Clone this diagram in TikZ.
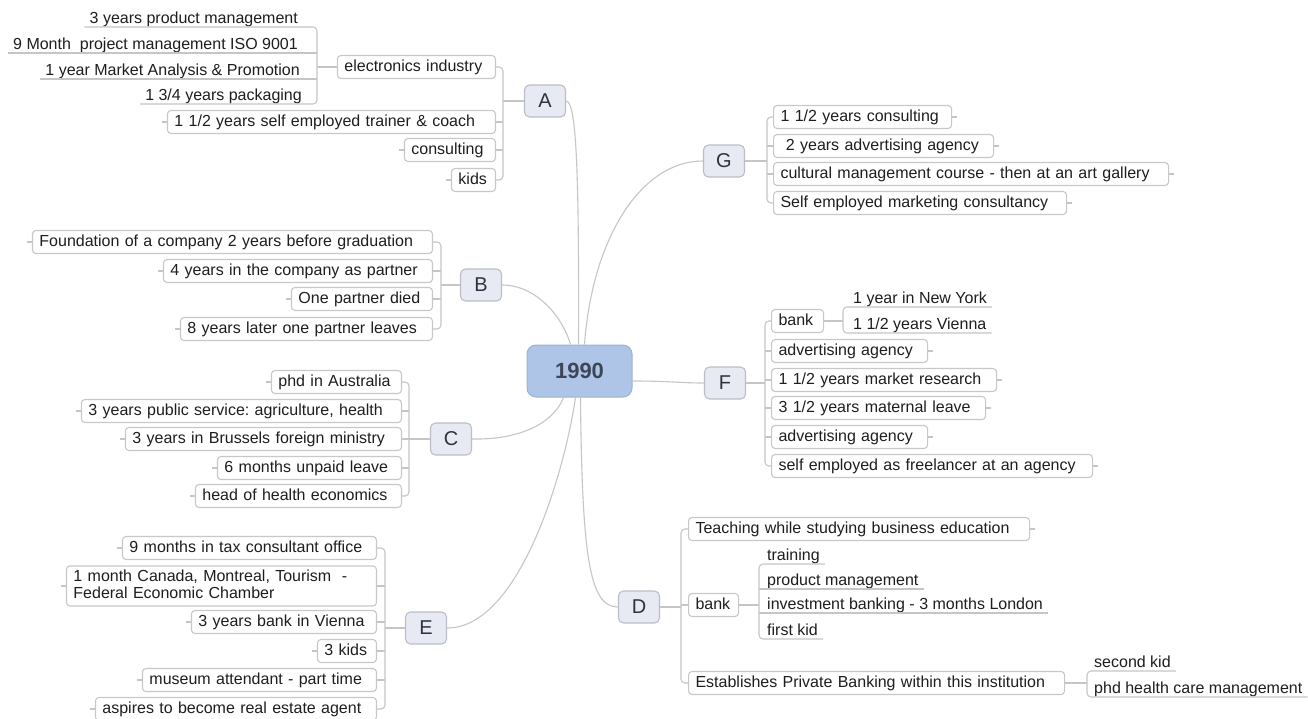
\documentclass[tikz,border=0pt]{standalone}
\usepackage{fontspec}
\setmainfont{Liberation Sans}
\frenchspacing
\definecolor{linkgray}{HTML}{C6C6C6}
\definecolor{leafgray}{HTML}{C8C8C8}
\definecolor{textcol}{HTML}{1E1E1E}
\definecolor{mainfill}{HTML}{E8EAF3}
\definecolor{mainline}{HTML}{BBBEC8}
\definecolor{maintext}{HTML}{2E3140}
\definecolor{rootfill}{HTML}{AEC5E7}
\definecolor{rootline}{HTML}{9DB3D3}
\definecolor{roottext}{HTML}{3E4656}

\begin{document}
\begin{tikzpicture}[x=1pt, y=-1pt,
    link/.style={draw=linkgray, line width=1.1pt},
    root/.style={draw=rootline, fill=rootfill, line width=1pt, rounded corners=9pt,
        minimum width=105pt, minimum height=52pt, text=roottext,
        font=\fontsize{22}{24}\selectfont\bfseries},
    topic/.style={draw=mainline, fill=mainfill, line width=1.1pt, rounded corners=5pt,
        minimum width=41pt, minimum height=32pt, inner sep=0pt, text=maintext,
        font=\fontsize{20}{22}\selectfont},
    leaf/.style={draw=leafgray, fill=white, line width=1.1pt, rounded corners=3.5pt,
        inner xsep=7pt, inner ysep=4pt, text height=11.5pt, text depth=3.5pt,
        align=left, text=textcol, font=\fontsize{16}{17}\selectfont},
    under/.style={inner xsep=5pt, inner ysep=0.5pt, text height=11.5pt, text depth=3pt,
        text=textcol, font=\fontsize{16}{17}\selectfont}]

    \path[use as bounding box, fill=white] (0,0) rectangle (1308,718);

    % root and main topics
    \node[root] (root) at (579.5,371) {1990};
    \node[topic] (A) at (545,101) {A};
    \node[topic] (B) at (481,285) {B};
    \node[topic] (C) at (451,439) {C};
    \node[topic] (D) at (639,607) {D};
    \node[topic] (E) at (426,628) {E};
    \node[topic] (F) at (725,383) {F};
    \node[topic] (G) at (724,161) {G};

    \draw[link] (A.east) .. controls (577,101) and (579,180) .. ([xshift=-1pt]root.north);
    \draw[link] (G.west) .. controls (640,161) and (592,240) .. ([xshift=5pt]root.north);
    \draw[link] (B.east) .. controls (535,285) and (562,315) .. ([xshift=-9pt]root.north);
    \draw[link] (C.east) .. controls (525,440) and (555,420) .. ([xshift=-16pt]root.south);
    \draw[link] (E.east) .. controls (520,628) and (565,470) .. ([xshift=-4pt]root.south);
    \draw[link] ([xshift=1pt]root.south) .. controls (582,560) and (590,607) .. (D.west);
    \draw[link] ([yshift=-10pt]root.east) .. controls (670,381) and (680,383) .. (F.west);

    % A
    \coordinate (sA) at (503,0);
    \node[leaf, anchor=east, text width=144pt] (a1) at (496,67) {electronics industry};
    \node[leaf, anchor=east, text width=314pt] (a2) at (496,122) {1 1/2 years self employed trainer \& coach};
    \node[leaf, anchor=east, text width=77pt] (a3) at (496,150) {consulting};
    \node[leaf, anchor=east, text width=30pt] (a4) at (496,180) {kids};
    \draw[link, rounded corners=4pt] (a1.east) -- (a1.east -| sA) -- (a4.east -| sA) -- (a4.east);
    \foreach \n in {a2,a3} \draw[link] (\n.east) -- (\n.east -| sA);
    \draw[link] (A.west) -- (A.west -| sA);
    \foreach \n in {a2,a3,a4} \draw[link] (\n.west) -- ++(-5,0);

    \coordinate (sAe) at (317,0);
    \node[under, anchor=south east] (ae1) at (303,27) {3 years product management};
    \node[under, anchor=south east] (ae2) at (303,53) {9 Month\ \ project management ISO 9001};
    \node[under, anchor=south east] (ae3) at (305,79) {1 year Market Analysis \& Promotion};
    \node[under, anchor=south east] (ae4) at (307,104) {1 3/4 years packaging};
    \draw[link, rounded corners=4pt] (ae1.south west) -- (ae1.south -| sAe) -- (ae4.south -| sAe) -- (ae4.south west);
    \foreach \n in {ae2,ae3} \draw[link] (\n.south west) -- (\n.south -| sAe);
    \draw[link] (a1.west) -- (a1.west -| sAe);

    % B
    \coordinate (sB) at (441,0);
    \node[leaf, anchor=east, text width=386pt] (b1) at (433,242) {Foundation of a company 2 years before graduation};
    \node[leaf, anchor=east, text width=255pt] (b2) at (433,271) {4 years in the company as partner};
    \node[leaf, anchor=east, text width=127pt] (b3) at (433,299) {One partner died};
    \node[leaf, anchor=east, text width=238pt] (b4) at (433,329) {8 years later one partner leaves};
    \draw[link, rounded corners=4pt] (b1.east) -- (b1.east -| sB) -- (b4.east -| sB) -- (b4.east);
    \foreach \n in {b2,b3} \draw[link] (\n.east) -- (\n.east -| sB);
    \draw[link] (B.west) -- (B.west -| sB);
    \foreach \n in {b1,b2,b3,b4} \draw[link] (\n.west) -- ++(-5,0);

    % C
    \coordinate (sC) at (409,0);
    \node[leaf, anchor=east, text width=116pt] (c1) at (402,382) {phd in Australia};
    \node[leaf, anchor=east, text width=306pt] (c2) at (402,411) {3 years public service: agriculture, health};
    \node[leaf, anchor=east, text width=262pt] (c3) at (402,439) {3 years in Brussels foreign ministry};
    \node[leaf, anchor=east, text width=170pt] (c4) at (402,468) {6 months unpaid leave};
    \node[leaf, anchor=east, text width=192pt] (c5) at (402,496) {head of health economics};
    \draw[link, rounded corners=4pt] (c1.east) -- (c1.east -| sC) -- (c5.east -| sC) -- (c5.east);
    \foreach \n in {c2,c3,c4} \draw[link] (\n.east) -- (\n.east -| sC);
    \draw[link] (C.west) -- (C.west -| sC);
    \foreach \n in {c1,c2,c3,c4,c5} \draw[link] (\n.west) -- ++(-5,0);

    % E
    \coordinate (sE) at (385,0);
    \node[leaf, anchor=east, text width=240pt] (e1) at (377,548) {9 months in tax consultant office};
    \node[leaf, anchor=east, text width=296pt, text depth=20.5pt] (e2) at (377,586) {1 month Canada, Montreal, Tourism\ \ -\\Federal Economic Chamber};
    \node[leaf, anchor=east, text width=171pt] (e3) at (377,622) {3 years bank in Vienna};
    \node[leaf, anchor=east, text width=45pt] (e4) at (377,651) {3 kids};
    \node[leaf, anchor=east, text width=220pt] (e5) at (377,680) {museum attendant - part time};
    \node[leaf, anchor=east, text width=267pt] (e6) at (377,709) {aspires to become real estate agent};
    \draw[link, rounded corners=4pt] (e1.east) -- (e1.east -| sE) -- (e6.east -| sE) -- (e6.east);
    \foreach \n in {e2,e3,e4,e5} \draw[link] (\n.east) -- (\n.east -| sE);
    \draw[link] (E.west) -- (E.west -| sE);
    \foreach \n in {e1,e2,e3,e4,e5,e6} \draw[link] (\n.west) -- ++(-5,0);

    % G
    \coordinate (sG) at (767,0);
    \node[leaf, anchor=west, text width=164pt] (g1) at (773,117) {1 1/2 years consulting};
    \node[leaf, anchor=west, text width=206pt] (g2) at (773,146) {\ 2 years advertising agency};
    \node[leaf, anchor=west, text width=381pt] (g3) at (773,174) {cultural management course - then at an art gallery};
    \node[leaf, anchor=west, text width=279pt] (g4) at (773,203) {Self employed marketing consultancy};
    \draw[link, rounded corners=4pt] (g1.west) -- (g1.west -| sG) -- (g4.west -| sG) -- (g4.west);
    \foreach \n in {g2,g3} \draw[link] (\n.west) -- (\n.west -| sG);
    \draw[link] (G.east) -- (G.east -| sG);
    \foreach \n in {g1,g2,g3,g4} \draw[link] (\n.east) -- ++(5,0);

    % F
    \coordinate (sF) at (765,0);
    \node[leaf, anchor=west, text width=38pt] (f1) at (771,321) {bank};
    \node[leaf, anchor=west, text width=142pt] (f2) at (771,351) {advertising agency};
    \node[leaf, anchor=west, text width=211pt] (f3) at (771,380) {1 1/2 years market research};
    \node[leaf, anchor=west, text width=200pt] (f4) at (771,408) {3 1/2 years maternal leave};
    \node[leaf, anchor=west, text width=142pt] (f5) at (771,437) {advertising agency};
    \node[leaf, anchor=west, text width=307pt] (f6) at (771,466) {self employed as freelancer at an agency};
    \draw[link, rounded corners=4pt] (f1.west) -- (f1.west -| sF) -- (f6.west -| sF) -- (f6.west);
    \foreach \n in {f2,f3,f4,f5} \draw[link] (\n.west) -- (\n.west -| sF);
    \draw[link] (F.east) -- (F.east -| sF);
    \foreach \n in {f2,f3,f4,f5,f6} \draw[link] (\n.east) -- ++(5,0);

    \coordinate (sFb) at (843,0);
    \node[under, anchor=south west] (fb1) at (848,307) {1 year in New York};
    \node[under, anchor=south west] (fb2) at (848,333) {1 1/2 years Vienna};
    \draw[link, rounded corners=4pt] (fb1.south east) -- (fb1.south -| sFb) -- (fb2.south -| sFb) -- (fb2.south east);
    \draw[link] (f1.east) -- (f1.east -| sFb);

    % D
    \coordinate (sD) at (681,0);
    \node[leaf, anchor=west, text width=327pt] (d1) at (688,529) {Teaching while studying business education};
    \node[leaf, anchor=west, text width=36pt] (d2) at (688,605) {bank};
    \node[leaf, anchor=west, text width=362pt] (d3) at (688,683) {Establishes Private Banking within this institution};
    \draw[link, rounded corners=4pt] (d1.west) -- (d1.west -| sD) -- (d3.west -| sD) -- (d3.west);
    \draw[link] (d2.west) -- (d2.west -| sD);
    \draw[link] (D.east) -- (D.east -| sD);
    \draw[link] (d1.east) -- ++(5,0);

    \coordinate (sDb) at (759,0);
    \node[under, anchor=south west] (db1) at (762,564) {training};
    \node[under, anchor=south west] (db2) at (762,589) {product management};
    \node[under, anchor=south west] (db3) at (762,613) {investment banking - 3 months London};
    \node[under, anchor=south west] (db4) at (762,639) {first kid};
    \draw[link, rounded corners=4pt] (db1.south east) -- (db1.south -| sDb) -- (db4.south -| sDb) -- (db4.south east);
    \foreach \n in {db2,db3} \draw[link] (\n.south east) -- (\n.south -| sDb);
    \draw[link] (d2.east) -- (d2.east -| sDb);

    \coordinate (sDc) at (1087,0);
    \node[under, anchor=south west] (dc1) at (1089,671) {second kid};
    \node[under, anchor=south west] (dc2) at (1089,697) {phd health care management};
    \draw[link, rounded corners=4pt] (dc1.south east) -- (dc1.south -| sDc) -- (dc2.south -| sDc) -- (dc2.south east);
    \draw[link] (d3.east) -- (d3.east -| sDc);
\end{tikzpicture}
\end{document}
